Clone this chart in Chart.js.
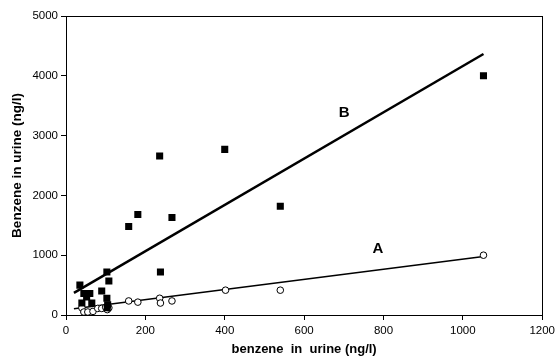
<!DOCTYPE html>
<html><head><meta charset="utf-8">
<script src="https://cdn.jsdelivr.net/npm/chart.js@4/dist/chart.umd.min.js"></script>
<style>html,body{margin:0;padding:0;background:#fff}#w{width:559px;height:362px;position:relative}</style>
</head><body><div id="w"><canvas id="c"></canvas></div>
<script>
// Group B (filled squares)
const bX = [35, 45, 60, 52, 40, 65, 90, 103, 108, 103, 105, 104, 158, 181, 236, 238, 267, 400, 540, 1052];
const bY = [500, 360, 360, 300, 200, 200, 400, 720, 570, 280, 170, 120, 1480, 1680, 2660, 720, 1630, 2770, 1820, 4000];
// Group A (open circles)
const aX = [40, 45, 55, 68, 80, 90, 100, 104, 108, 158, 181, 236, 238, 267, 402, 540, 1052];
const aY = [120, 50, 50, 60, 110, 110, 130, 90, 120, 235, 215, 280, 200, 235, 415, 415, 1000];
// Regression lines
const lineBX = [20, 1052];
const lineBY = [370, 4365];
const lineAX = [20, 1052];
const lineAY = [105, 980];
// Axis ranges / ticks
const xMin = 0, xMax = 1200, xStep = 200;
const yMin = 0, yMax = 5000, yStep = 1000;
// Labels on the lines
const labelText = ['B', 'A'];
const labelX = [701, 786];
const labelY = [3380, 1110];

const pts = (xs, ys) => xs.map((x, i) => ({x, y: ys[i]}));
const FONT = "'Liberation Sans', Arial, sans-serif";

const framePlugin = {
  id: 'frame',
  beforeDatasetsDraw(chart) {
    const {ctx, chartArea: a} = chart;
    ctx.save();
    ctx.strokeStyle = '#000';
    ctx.lineWidth = 1;
    ctx.strokeRect(Math.round(a.left) + 0.5, Math.round(a.top) + 0.5, Math.round(a.right - a.left), Math.round(a.bottom - a.top));
    ctx.restore();
  },
  afterDatasetsDraw(chart) {
    const {ctx, scales} = chart;
    ctx.save();
    ctx.fillStyle = '#000';
    ctx.font = "bold 15px " + FONT;
    ctx.textAlign = 'center';
    ctx.textBaseline = 'middle';
    labelText.forEach((t, i) => {
      ctx.fillText(t, scales.x.getPixelForValue(labelX[i]), scales.y.getPixelForValue(labelY[i]));
    });
    ctx.restore();
  }
};

new Chart(document.getElementById('c'), {
  type: 'scatter',
  data: {
    datasets: [
      { label: 'B', data: pts(bX, bY), pointStyle: 'rect', pointRadius: 5, pointHoverRadius: 5,
        backgroundColor: '#000', borderColor: '#000', borderWidth: 0 },
      { label: 'A', data: pts(aX, aY), pointStyle: 'circle', pointRadius: 3.3, pointHoverRadius: 3.3,
        backgroundColor: '#fff', borderColor: '#000', borderWidth: 1 },
      { label: 'fitB', data: pts(lineBX, lineBY), showLine: true, pointRadius: 0,
        borderColor: '#000', borderWidth: 2.5 },
      { label: 'fitA', data: pts(lineAX, lineAY), showLine: true, pointRadius: 0,
        borderColor: '#000', borderWidth: 1.5 }
    ]
  },
  options: {
    responsive: true,
    maintainAspectRatio: false,
    animation: false,
    layout: { padding: { top: 16, right: 15, left: 0, bottom: 0 } },
    plugins: { legend: { display: false }, tooltip: { enabled: false } },
    scales: {
      x: {
        type: 'linear', min: xMin, max: xMax,
        ticks: { stepSize: xStep, color: '#000', font: { family: FONT, size: 11.5 }, padding: 4,
                 callback: v => String(v) },
        grid: { drawOnChartArea: false, drawTicks: true, tickLength: 5, color: '#000' },
        border: { display: true, color: '#000', width: 1 },
        title: { display: true, text: 'benzene  in  urine (ng/l)', color: '#000',
                 font: { family: FONT, size: 13, weight: 'bold' }, padding: { top: 0, bottom: 5 } },
        afterFit: s => { s.height = 47; }
      },
      y: {
        type: 'linear', min: yMin, max: yMax,
        ticks: { stepSize: yStep, color: '#000', font: { family: FONT, size: 11.5 }, padding: 3,
                 callback: v => String(v) },
        grid: { drawOnChartArea: false, drawTicks: true, tickLength: 5, color: '#000' },
        border: { display: true, color: '#000', width: 1 },
        title: { display: true, text: 'Benzene in urine (ng/l)', color: '#000',
                 font: { family: FONT, size: 13.5, weight: 'bold' }, padding: { top: 9, bottom: 4 } },
        afterFit: s => { s.width = 66; }
      }
    }
  },
  plugins: [framePlugin]
});
</script>
</body></html>
